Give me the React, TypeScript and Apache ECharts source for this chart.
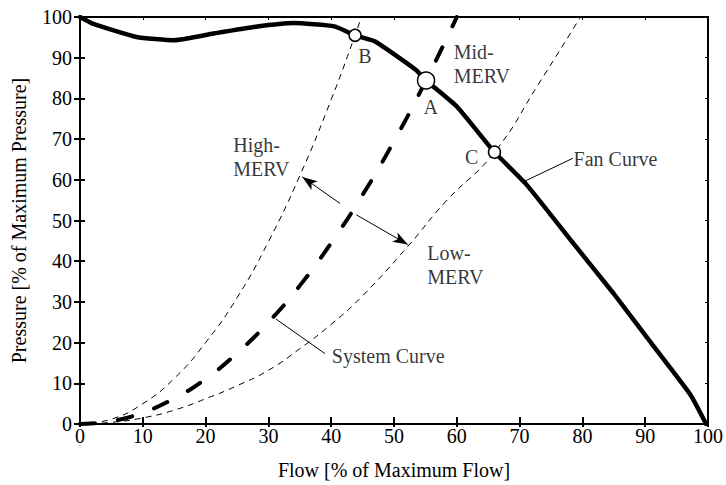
import React, { useEffect, useRef } from "react";
import * as echarts from "echarts";

// Fan curve (solid thick), flow % vs pressure %
const fanCurve: [number, number][] = [
  [0, 100], [2, 98.4], [9, 95.1], [15, 94.3], [21.5, 96], [28, 97.6], [34, 98.5],
  [40.5, 97.7], [43.8, 95.5], [47, 94], [53.5, 87], [55.1, 84.4], [60, 78],
  [66, 66.8], [71, 59], [78.5, 44.5], [85, 32], [91, 19.8], [97.2, 7.2], [99.7, 0],
];

// System curves
const highMerv: [number, number][] = [
  [0, 0], [5, 1.2], [10, 5], [15, 11.2], [20, 20], [25, 31], [30, 44.8],
  [35, 61], [40, 79.7], [43.8, 95.5], [44.8, 100],
];
const midMerv: [number, number][] = [
  [0, 0], [5, 0.7], [10, 2.8], [15, 6.3], [20, 11.1], [25, 17.4], [30, 25],
  [35, 34], [40, 44.5], [45, 56.3], [50, 69.5], [55.1, 84.4], [60, 100],
];
const lowMerv: [number, number][] = [
  [0, 0], [5, 0.4], [10, 1.5], [15, 3.4], [20, 6.2], [25, 9.4], [30, 13.2],
  [35, 18.5], [40, 24.5], [45, 31.5], [52.4, 44], [58.2, 54.6], [66, 66.8],
  [73, 83.5], [79.7, 100],
];

// Operating points
const pointNames = ["B", "A", "C"];
const pointValues: [number, number][] = [[43.8, 95.5], [55.1, 84.4], [66, 66.8]];
const pointSizes = [12, 17, 12];

// Text annotations (left edge x, vertical centre y) in data units
const annotationTexts = ["B", "A", "C", "Mid-\nMERV", "High-\nMERV", "Low-\nMERV", "System Curve", "Fan Curve"];
const annotationPos: [number, number][] = [
  [44.3, 90.3], [54.7, 77.8], [61.3, 65.6], [59.5, 88.5], [24.4, 65.6],
  [55.3, 39.0], [40.1, 16.8], [78.6, 65.2],
];

// Arrows and leader lines
const arrowLines: { from: [number, number]; to: [number, number]; arrow: boolean }[] = [
  { from: [41.4, 54.2], to: [35.4, 60.7], arrow: true },
  { from: [44.0, 51.4], to: [52.2, 44.1], arrow: true },
  { from: [31.2, 25.8], to: [39.0, 17.3], arrow: false },
  { from: [70.75, 59.6], to: [78.5, 65.3], arrow: false },
];

const FONT = "'Liberation Serif', 'Times New Roman', serif";
const FS = 20;

export default function App() {
  const ref = useRef<HTMLDivElement>(null);
  useEffect(() => {
    document.body.style.margin = "0";
    const chart = echarts.init(ref.current!, null, { renderer: "svg" });
    const black = "#000";
    const baseAxis = {
      type: "value",
      min: 0,
      max: 100,
      interval: 10,
      splitLine: { show: false },
    };
    chart.setOption({
      animation: false,
      textStyle: { fontFamily: FONT, color: black },
      grid: { left: 80, right: 10, top: 17, bottom: 58 },
      xAxis: [
        {
          ...baseAxis,
          position: "bottom",
          name: "Flow [% of Maximum Flow]",
          nameLocation: "middle",
          nameGap: 36,
          nameTextStyle: { fontSize: FS, color: black, fontFamily: FONT },
          axisLine: { show: true, onZero: false, lineStyle: { color: black, width: 2 } },
          axisTick: { show: true, inside: false, length: 3, lineStyle: { color: black, width: 2 } },
          axisLabel: { fontSize: FS, color: black, margin: 2, fontFamily: FONT },
        },
        {
          ...baseAxis,
          position: "bottom",
          axisLine: { show: false, onZero: false },
          axisTick: { show: true, inside: true, length: 7, lineStyle: { color: black, width: 2 } },
          axisLabel: { show: false },
        },
        {
          ...baseAxis,
          position: "top",
          axisLine: { show: true, onZero: false, lineStyle: { color: black, width: 2 } },
          axisTick: { show: true, inside: true, length: 3, lineStyle: { color: black, width: 1 } },
          axisLabel: { show: false },
        },
      ],
      yAxis: [
        {
          ...baseAxis,
          position: "left",
          name: "Pressure [% of Maximum Pressure]",
          nameLocation: "middle",
          nameGap: 51,
          nameRotate: 90,
          nameTextStyle: { fontSize: FS, color: black, fontFamily: FONT },
          axisLine: { show: true, onZero: false, lineStyle: { color: black, width: 2 } },
          axisTick: { show: true, inside: false, length: 6, lineStyle: { color: black, width: 2 } },
          axisLabel: { fontSize: FS, color: black, margin: 8, fontFamily: FONT },
        },
        {
          ...baseAxis,
          position: "left",
          axisLine: { show: false, onZero: false },
          axisTick: { show: true, inside: true, length: 5, lineStyle: { color: black, width: 2 } },
          axisLabel: { show: false },
        },
        {
          ...baseAxis,
          position: "right",
          axisLine: { show: true, onZero: false, lineStyle: { color: black, width: 2 } },
          axisTick: { show: true, inside: true, length: 3, lineStyle: { color: black, width: 1 } },
          axisLabel: { show: false },
        },
      ],
      series: [
        {
          name: "High-MERV",
          type: "line",
          data: highMerv,
          symbol: "none",
          smooth: 0.5,
          lineStyle: { color: black, width: 1, type: [6, 5] },
          z: 2,
        },
        {
          name: "Low-MERV",
          type: "line",
          data: lowMerv,
          symbol: "none",
          smooth: 0.5,
          lineStyle: { color: black, width: 1, type: [6, 5] },
          z: 2,
        },
        {
          name: "Mid-MERV",
          type: "line",
          data: midMerv,
          symbol: "none",
          smooth: 0.5,
          lineStyle: { color: black, width: 4, type: [15, 23], cap: "round" },
          z: 3,
        },
        {
          name: "Fan Curve",
          type: "line",
          data: fanCurve,
          symbol: "none",
          smooth: 0.15,
          lineStyle: { color: black, width: 4.5, join: "round", cap: "round" },
          z: 4,
        },
        {
          name: "Points",
          type: "scatter",
          data: pointValues.map((v, i) => ({ name: pointNames[i], value: v, symbolSize: pointSizes[i] })),
          symbol: "circle",
          itemStyle: { color: "#fff", borderColor: black, borderWidth: 1.5, opacity: 1 },
          z: 6,
        },
        {
          name: "Annotations",
          type: "scatter",
          data: annotationPos.map((v, i) => ({ name: annotationTexts[i], value: v })),
          symbolSize: 0,
          silent: true,
          label: {
            show: true,
            position: "right",
            distance: 0,
            formatter: (p: any) => p.name,
            fontSize: FS,
            lineHeight: 24,
            color: black,
            fontFamily: FONT,
            align: "left",
          },
          markLine: {
            silent: true,
            animation: false,
            label: { show: false },
            lineStyle: { color: black, width: 1, type: "solid" },
            data: arrowLines.map((a) => [
              { coord: a.from, symbol: "none" },
              { coord: a.to, symbol: a.arrow ? "arrow" : "none", symbolSize: [8, 15] },
            ]),
          },
          z: 7,
        },
      ],
    });
    return () => chart.dispose();
  }, []);
  return (
    <div
      ref={ref}
      style={{ position: "fixed", left: 0, top: 0, width: 726, height: 485, background: "#fff" }}
    />
  );
}
